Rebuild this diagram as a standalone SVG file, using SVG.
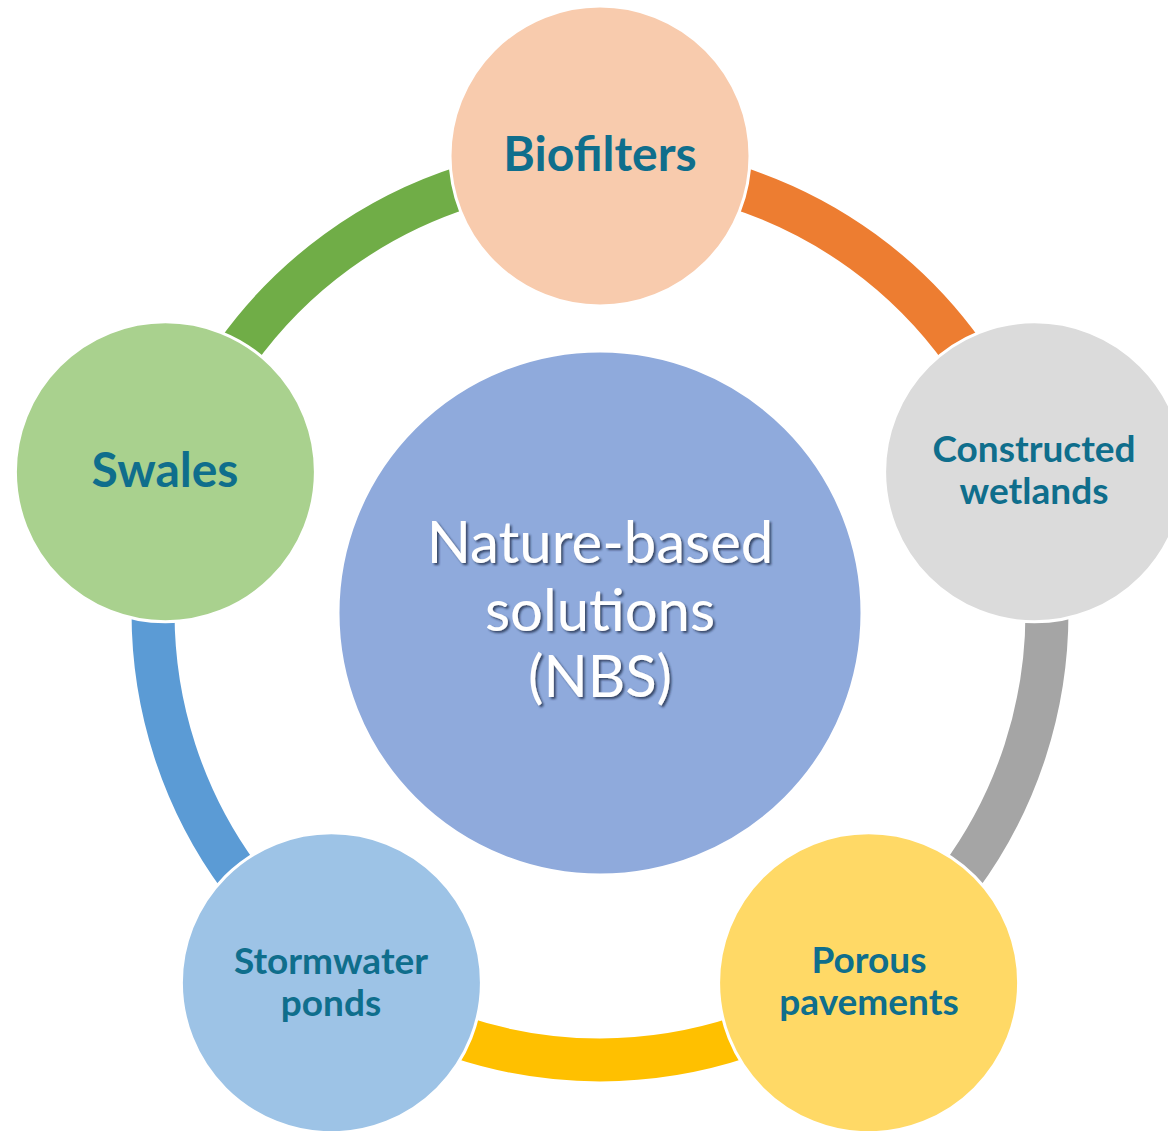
<svg xmlns="http://www.w3.org/2000/svg" width="1168" height="1131" viewBox="0 0 1168 1131">
  <defs>
    <filter id="shadow" x="-10%" y="-10%" width="120%" height="120%">
      <feDropShadow dx="2" dy="2" stdDeviation="1" flood-color="#1f2a44" flood-opacity="0.75"/>
    </filter>
  </defs>
  <style>
    .arc { fill: none; stroke-width: 43; stroke-linecap: butt; }
    .node { stroke: #ffffff; stroke-width: 3; }
    .lbl { font-family: Lato, "Open Sans", "Liberation Sans", sans-serif; font-weight: bold; fill: #0F6E8C; text-anchor: middle; }
    .big { font-size: 48px; }
    .small { font-size: 37px; }
    .center { font-family: Lato, "Open Sans", "Liberation Sans", sans-serif; font-size: 58px; fill: #ffffff; text-anchor: middle; filter: url(#shadow); }
  </style>
  <rect x="0" y="0" width="1168" height="1131" fill="#ffffff"/>
  <g id="connectors">
    <path class="arc" stroke="#ED7D31" d="M 600 166 A 447 447 0 0 1 1025.1 474.9"/>
    <path class="arc" stroke="#A5A5A5" d="M 1025.1 474.9 A 447 447 0 0 1 862.7 974.6"/>
    <path class="arc" stroke="#FFC000" d="M 862.7 974.6 A 447 447 0 0 1 337.3 974.6"/>
    <path class="arc" stroke="#5B9BD5" d="M 337.3 974.6 A 447 447 0 0 1 174.9 474.9"/>
    <path class="arc" stroke="#70AD47" d="M 174.9 474.9 A 447 447 0 0 1 600 166"/>
  </g>
  <g id="node-center">
    <circle class="node" cx="600" cy="613" r="262" fill="#8FAADC"/>
    <text class="center" x="600" y="563">Nature-based</text>
    <text class="center" x="600" y="631">solutions</text>
    <text class="center" x="600" y="697">(NBS)</text>
  </g>
  <g id="node-biofilters">
    <circle class="node" cx="600" cy="156" r="150" fill="#F8CBAD"/>
    <text class="lbl big" x="600" y="171">Biofilters</text>
  </g>
  <g id="node-wetlands">
    <circle class="node" cx="1034.6" cy="471.8" r="150" fill="#DBDBDB"/>
    <text class="lbl small" x="1034" y="462">Constructed</text>
    <text class="lbl small" x="1034" y="504">wetlands</text>
  </g>
  <g id="node-porous">
    <circle class="node" cx="868.6" cy="982.7" r="150" fill="#FFD966"/>
    <text class="lbl small" x="869" y="973">Porous</text>
    <text class="lbl small" x="869" y="1015">pavements</text>
  </g>
  <g id="node-stormwater">
    <circle class="node" cx="331.4" cy="982.7" r="150" fill="#9DC3E6"/>
    <text class="lbl small" x="331" y="974">Stormwater</text>
    <text class="lbl small" x="331" y="1016">ponds</text>
  </g>
  <g id="node-swales">
    <circle class="node" cx="165.4" cy="471.8" r="150" fill="#A9D18E"/>
    <text class="lbl big" x="165" y="487">Swales</text>
  </g>
</svg>
